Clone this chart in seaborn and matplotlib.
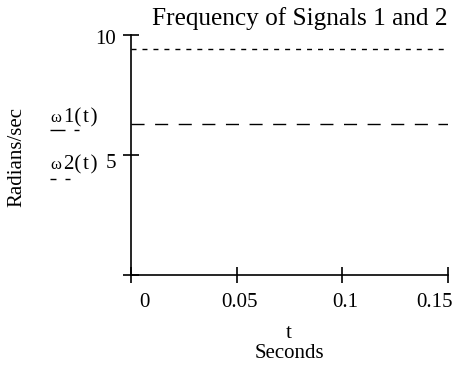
import numpy as np
import pandas as pd
import matplotlib
matplotlib.use("Agg")
import matplotlib.pyplot as plt
import matplotlib.transforms as mtransforms
from matplotlib.lines import Line2D
import seaborn as sns

# ---- data ----
t = [0.0, 0.05, 0.10, 0.15]
omega1 = [6.283, 6.283, 6.283, 6.283]   # ω1(t)
omega2 = [9.425, 9.425, 9.425, 9.425]   # ω2(t)
xticks = [0, 0.05, 0.1, 0.15]
xticklabels = ["0", "0.05", "0.1", "0.15"]
yticks = [0, 5, 10]
yticklabels = ["", "5", "10"]
series_labels = ["1(\u200at\u200a)", "2(\u200at\u200a)"]

sns.set_theme(style="white")
plt.rcParams["font.family"] = ["Liberation Serif", "DejaVu Serif"]

fig = plt.figure(figsize=(4.56, 3.66), dpi=100)
W, H = 456, 366
ax = fig.add_axes([131 / W, 1 - 275 / H, (448 - 131) / W, (275 - 35) / H])

df = pd.DataFrame({"t": t, "w1": omega1, "w2": omega2})
sns.lineplot(data=df, x="t", y="w1", ax=ax, color="black", linewidth=1.0)
ax.lines[-1].set_dashes((9.4, 7.6))
sns.lineplot(data=df, x="t", y="w2", ax=ax, color="black", linewidth=1.0)
ax.lines[-1].set_dashes((3.6, 4.3))

ax.set_xlim(0, 0.15)
ax.set_ylim(0, 10)
for s in ["top", "right"]:
    ax.spines[s].set_visible(False)
for s in ["left", "bottom"]:
    ax.spines[s].set_color("black")
    ax.spines[s].set_linewidth(1.2)

ax.set_xticks(xticks)
ax.set_xticklabels(xticklabels)
ax.set_yticks(yticks)
ax.set_yticklabels(yticklabels)
ax.tick_params(axis="both", direction="inout", width=1.2,
               color="black", labelsize=15, labelcolor="black",
               bottom=True, left=True)
ax.tick_params(axis="x", length=12, pad=7)
ax.tick_params(axis="y", length=11, pad=5)

# Mathcad-like label offsets (pixels)
offsets = [13, 3, 3, -13]
for lab, dx in zip(ax.get_xticklabels(), offsets):
    lab.set_transform(lab.get_transform() + mtransforms.ScaledTranslation(dx / 100, 0, fig.dpi_scale_trans))
yoffs = [0, -6, -2]
for lab, dy in zip(ax.get_yticklabels(), yoffs):
    lab.set_transform(lab.get_transform() + mtransforms.ScaledTranslation(0, dy / 100, fig.dpi_scale_trans))

ax.set_xlabel("")
ax.set_ylabel("")

fig.text(448 / W, 1 - 25 / H, "Frequency of Signals 1 and 2", ha="right", va="baseline",
         fontsize=18.2, color="black")
fig.text(289 / W, 1 - 338 / H, "t", ha="center", va="baseline", fontsize=15, color="black")
fig.text(289 / W, 1 - 358 / H, "Seconds", ha="center", va="baseline", fontsize=15, color="black")
fig.text(17 / W, 1 - 157 / H, "Radians/sec", ha="center", va="center", rotation=90,
         fontsize=15, color="black")

# legend-like labels on the left
for (yb, yl, lab, dash, x1) in [(122, 130, series_labels[0], (10.8, 6.5), 79),
                                (169, 179, series_labels[1], (4.3, 6.5), 70)]:
    fig.text(50 / W, 1 - yb / H, "\u03c9", ha="left", va="baseline", fontsize=12, color="black")
    fig.text(64 / W, 1 - yb / H, lab, ha="left", va="baseline", fontsize=15, color="black")
    fig.add_artist(Line2D([50 / W, x1 / W], [1 - yl / H, 1 - yl / H], color="black",
                          linewidth=1.0, dashes=dash, transform=fig.transFigure))

fig.savefig("out.png", dpi=100)
